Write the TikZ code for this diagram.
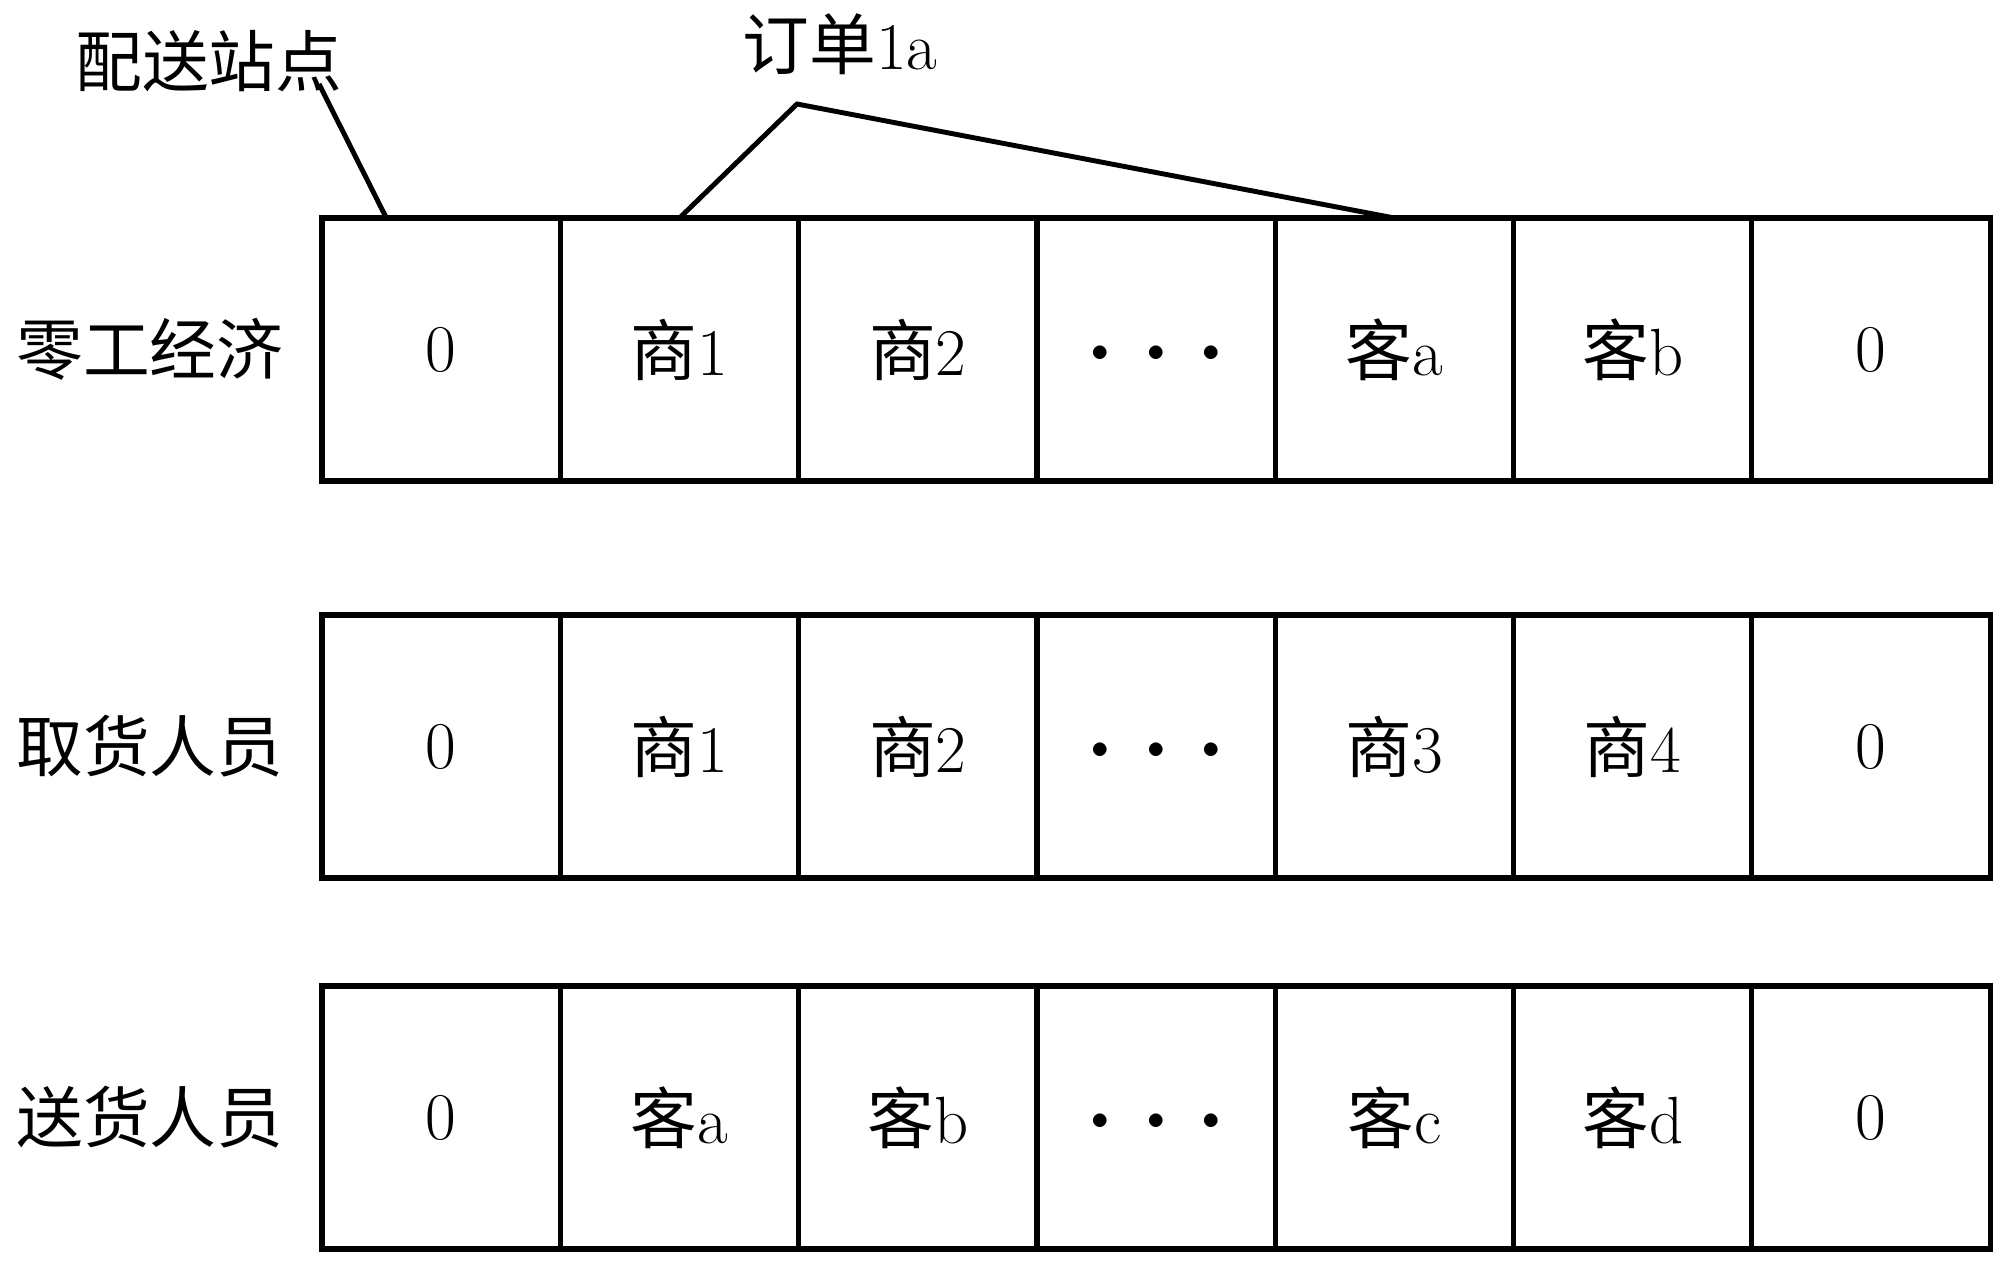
\documentclass[tikz,border=0pt]{standalone}
\usepackage{fontspec}
\newfontfamily\cjk{Noto Sans CJK SC}
\usetikzlibrary{positioning, calc}
\tikzset{
  celda/.style={rectangle, draw=black, line width=1.5pt, outer sep=0pt, inner sep=0pt,
                minimum width=2.383cm, minimum height=2.63cm, text centered,
                font=\fontsize{19}{22}\selectfont},
  etiq/.style={inner sep=0pt, font=\fontsize{19}{22}\selectfont\cjk},
  linea/.style={line width=1.4pt, line join=miter}
}
\newcommand{\puntos}{\raisebox{-0.12cm}[0pt][0pt]{\fontsize{10}{12}\selectfont$\bullet\hspace{0.3cm}\bullet\hspace{0.3cm}\bullet$}}
\newcommand{\sh}{\cjk 商}
\newcommand{\ke}{\cjk 客}

\begin{document}
\begin{tikzpicture}
  \useasboundingbox (0,0) rectangle (19.99,-12.61);
  % fila 1
  \node (lg0) [celda] at (4.412,-3.495) {0};
  \node (lg1) [celda, right=0pt of lg0] {{\sh}1};
  \node (lg2) [celda, right=0pt of lg1] {{\sh}2};
  \node (lg3) [celda, right=0pt of lg2] {\puntos};
  \node (lg4) [celda, right=0pt of lg3] {{\ke}a};
  \node (lg5) [celda, right=0pt of lg4] {{\ke}b};
  \node (lg6) [celda, right=0pt of lg5] {0};
  \node (lgt) [etiq, left=0.38cm of lg0] {零工经济};
  % fila 2
  \node (qh0) [celda] at (4.412,-7.465) {0};
  \node (qh1) [celda, right=0pt of qh0] {{\sh}1};
  \node (qh2) [celda, right=0pt of qh1] {{\sh}2};
  \node (qh3) [celda, right=0pt of qh2] {\puntos};
  \node (qh4) [celda, right=0pt of qh3] {{\sh}3};
  \node (qh5) [celda, right=0pt of qh4] {{\sh}4};
  \node (qh6) [celda, right=0pt of qh5] {0};
  \node (qht) [etiq, left=0.38cm of qh0] {取货人员};
  % fila 3
  \node (sh0) [celda] at (4.412,-11.175) {0};
  \node (sh1) [celda, right=0pt of sh0] {{\ke}a};
  \node (sh2) [celda, right=0pt of sh1] {{\ke}b};
  \node (sh3) [celda, right=0pt of sh2] {\puntos};
  \node (sh4) [celda, right=0pt of sh3] {{\ke}c};
  \node (sh5) [celda, right=0pt of sh4] {{\ke}d};
  \node (sh6) [celda, right=0pt of sh5] {0};
  \node (sht) [etiq, left=0.38cm of sh0] {送货人员};
  % rotulos de arriba
  \node (zhan) [etiq] at (2.09,-0.61) {配送站点};
  \node (dingdan) [etiq] at (8.40,-0.44) {订单{\normalfont 1a}};
  \coordinate (zhanp) at (3.19,-0.84);
  \coordinate (pico) at (7.97,-1.04);
  \draw [linea] (zhanp) -- ($(lg0.north west)!0.27!(lg0.north east)$);
  \draw [linea] (lg1.north) -- (pico) -- (lg4.north);
\end{tikzpicture}
\end{document}
